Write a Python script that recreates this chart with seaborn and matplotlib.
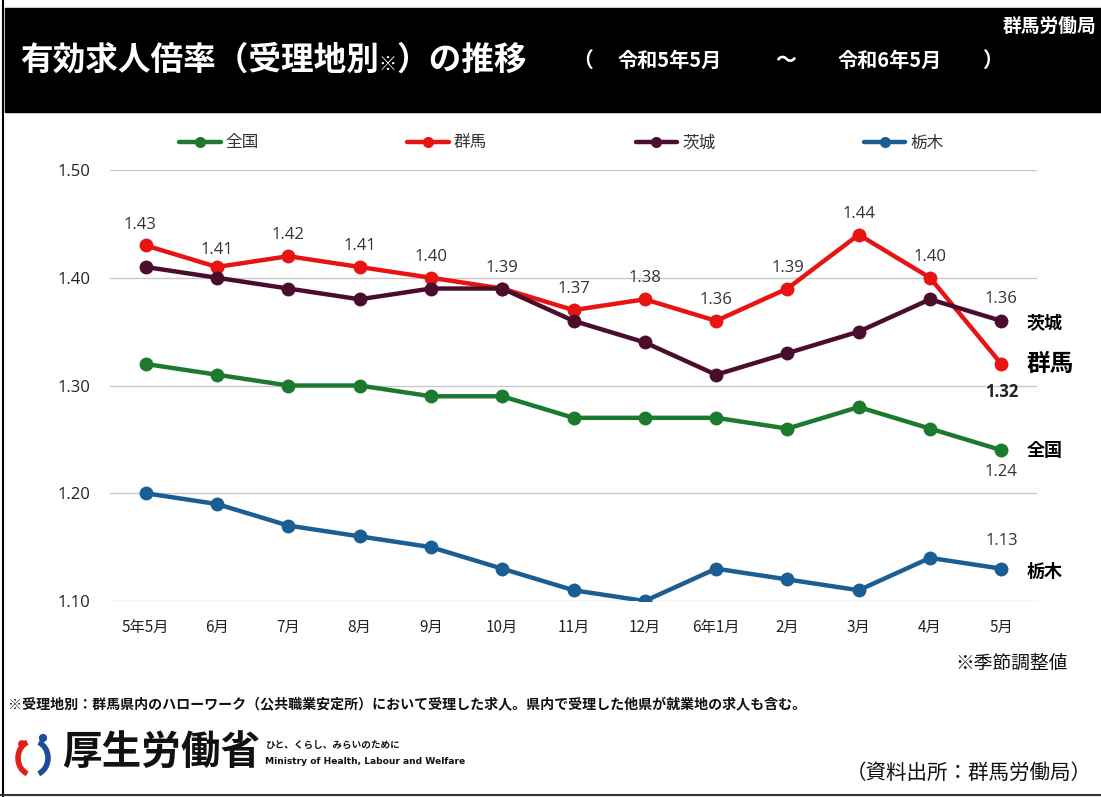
import numpy as np
import pandas as pd
import matplotlib
matplotlib.use("Agg")
import matplotlib.pyplot as plt
from matplotlib.lines import Line2D
from matplotlib.patches import Rectangle, Arc, Circle
import seaborn as sns

# ── data ─────────────────────────────────────────
MONTHS = ["5年5月", "6月", "7月", "8月", "9月", "10月", "11月", "12月",
          "6年1月", "2月", "3月", "4月", "5月"]
ZENKOKU = [1.32, 1.31, 1.30, 1.30, 1.29, 1.29, 1.27, 1.27, 1.27, 1.26, 1.28, 1.26, 1.24]
GUNMA = [1.43, 1.41, 1.42, 1.41, 1.40, 1.39, 1.37, 1.38, 1.36, 1.39, 1.44, 1.40, 1.32]
IBARAKI = [1.41, 1.40, 1.39, 1.38, 1.39, 1.39, 1.36, 1.34, 1.31, 1.33, 1.35, 1.38, 1.36]
TOCHIGI = [1.20, 1.19, 1.17, 1.16, 1.15, 1.13, 1.11, 1.10, 1.13, 1.12, 1.11, 1.14, 1.13]
Y_TICKS = [1.10, 1.20, 1.30, 1.40, 1.50]

REGIONS = ["全国", "群馬", "茨城", "栃木"]
PALETTE = {
    "全国": "#1c7a2e",
    "群馬": "#e81414",
    "茨城": "#4b0d2c",
    "栃木": "#1a5e93",
}

series = {"全国": ZENKOKU, "群馬": GUNMA, "茨城": IBARAKI, "栃木": TOCHIGI}
rows = []
for reg in REGIONS:
    for i, v in enumerate(series[reg]):
        rows.append({"pos": i, "month": MONTHS[i], "region": reg, "value": v})
df = pd.DataFrame(rows)

# ── figure ─────────────────────────────────────────
sns.set_style("white")
plt.rcParams["font.family"] = ["Noto Sans CJK JP", "DejaVu Sans"]

W, H = 1101, 797
fig = plt.figure(figsize=(W / 100, H / 100), dpi=100)


def fx(px):
    return px / W


def fy(py):
    return 1 - py / H


# header band
fig.patches.append(Rectangle((fx(5), fy(112)), fx(1101 - 5), (112 - 8) / H,
                             transform=fig.transFigure, color="black", zorder=0))
# frame lines
fig.add_artist(Line2D([fx(3), fx(3)], [0, 1], color="black", lw=1.5))
fig.add_artist(Line2D([0, 1], [fy(795), fy(795)], color="#333333", lw=1.5))

# title pieces, laid out left to right
renderer = fig.canvas.get_renderer()


def put(x_px, text, size, weight="bold", y_px=60):
    t = fig.text(fx(x_px), fy(y_px), text, color="white", fontsize=size,
                 fontweight=weight, va="center", ha="left")
    bb = t.get_window_extent(renderer=renderer)
    return bb.x1


x_end = put(20, "有効求人倍率（受理地別", 23.5)
x_end = put(x_end, "※", 13, y_px=64)
put(x_end, "）の推移", 23.5)
put(572, "（", 15)
put(618, "令和5年5月", 14.5)
put(775, "～", 15)
put(838, "令和6年5月", 14.5)
put(982, "）", 15)
fig.text(fx(1096), fy(26), "群馬労働局", color="white", fontsize=13.5,
         fontweight="bold", ha="right", va="center")

# ── chart ─────────────────────────────────────────
ax = fig.add_axes([fx(110), fy(601), fx(1037 - 110), (601 - 170) / H])
sns.lineplot(data=df, x="pos", y="value", hue="region", hue_order=REGIONS,
             palette=PALETTE, marker="o", markersize=10, markeredgewidth=0,
             linewidth=3.2, legend=False, ax=ax, zorder=3)

ax.set_xlim(-0.5, len(MONTHS) - 0.5)
ax.set_ylim(1.10, 1.50)
ax.set_yticks(Y_TICKS)
ax.set_yticklabels([f"{v:.2f}" for v in Y_TICKS], fontsize=12, color="#222222",
                   family=["Open Sans", "DejaVu Sans"])
ax.set_xticks(range(len(MONTHS)))
ax.set_xticklabels(MONTHS, fontsize=11, color="#222222")
ax.tick_params(length=0, pad=14, axis="y")
ax.tick_params(length=0, pad=13, axis="x")
ax.set_xlabel("")
ax.set_ylabel("")
ax.grid(axis="y", color="#c9c9c9", lw=1)
ax.grid(axis="x", visible=False)
for s in ax.spines.values():
    s.set_visible(False)

NUM_FONT = ["Open Sans", "DejaVu Sans"]

# value labels for 群馬
for i, v in enumerate(GUNMA[:-1]):
    dy = 12 if i == 1 else 15
    ax.annotate(f"{v:.2f}", (i, v), xytext=(-4 if i == 0 else 0, dy),
                textcoords="offset points", ha="center", va="center",
                fontsize=12, color="#333333", family=NUM_FONT)
last = len(MONTHS) - 1
ax.annotate(f"{GUNMA[-1]:.2f}", (last, GUNMA[-1]), xytext=(0, -20),
            textcoords="offset points", ha="center", va="center", fontsize=12,
            fontweight="bold", color="#222222", family=NUM_FONT)
ax.annotate(f"{IBARAKI[-1]:.2f}", (last, IBARAKI[-1]), xytext=(0, 16),
            textcoords="offset points", ha="center", va="center", fontsize=12,
            color="#333333", family=NUM_FONT)
ax.annotate(f"{ZENKOKU[-1]:.2f}", (last, ZENKOKU[-1]), xytext=(0, -16),
            textcoords="offset points", ha="center", va="center", fontsize=12,
            color="#333333", family=NUM_FONT)
ax.annotate(f"{TOCHIGI[-1]:.2f}", (last, TOCHIGI[-1]), xytext=(0, 20),
            textcoords="offset points", ha="center", va="center", fontsize=12,
            color="#333333", family=NUM_FONT)

# end-of-line names
end_names = [("茨城", IBARAKI[-1], -1, 13), ("群馬", GUNMA[-1], 0, 17),
             ("全国", ZENKOKU[-1], 0, 13), ("栃木", TOCHIGI[-1], -2, 13)]
for name, v, dy, size in end_names:
    ax.annotate(name, (last, v), xytext=(18, dy), textcoords="offset points",
                ha="left", va="center", fontsize=size, fontweight="bold",
                color="black")

# legend
handles = [Line2D([], [], color=PALETTE[r], lw=3.2, marker="o", markersize=8,
                  markeredgewidth=0) for r in REGIONS]
fig.legend(handles, REGIONS, loc="center left", bbox_to_anchor=(fx(164), fy(143)),
           ncol=4, frameon=False, fontsize=12, handlelength=2.5,
           handletextpad=0.3, columnspacing=8.9, labelcolor="#333333")

# ── footnotes ─────────────────────────────────────────
fig.text(fx(1068), fy(663), "※季節調整値", fontsize=13.5, ha="right",
         va="center", color="#111111")
fig.text(fx(8), fy(705),
         "※受理地別：群馬県内のハローワーク（公共職業安定所）において受理した求人。県内で受理した他県が就業地の求人も含む。",
         fontsize=10.1, fontweight="bold", ha="left", va="center", color="#111111")
fig.text(fx(1092), fy(773), "（資料出所：群馬労働局）", fontsize=14.8, ha="right",
         va="center", color="#111111")

# ministry logo
fig.text(fx(62), fy(752), "厚生労働省", fontsize=28.5, fontweight="bold",
         ha="left", va="center", color="#111111")
fig.text(fx(265), fy(745), "ひと、くらし、みらいのために", fontsize=6.9,
         fontweight="bold", ha="left", va="center", color="#111111")
fig.text(fx(265), fy(761), "Ministry of Health, Labour and Welfare", fontsize=6.6,
         fontweight="bold", ha="left", va="center", color="#111111",
         family=["Liberation Sans Narrow", "DejaVu Sans"])

logo = fig.add_axes([fx(12), fy(782), fx(46), 52 / H])
logo.set_xlim(0, 46)
logo.set_ylim(0, 52)
logo.set_aspect("equal")
logo.axis("off")
logo.add_patch(Arc((21, 24), 30, 34, theta1=110, theta2=250, color="#e0201b", lw=4))
logo.add_patch(Arc((21, 24), 30, 34, theta1=-70, theta2=70, color="#1f4c9a", lw=4))
logo.add_patch(Circle((10, 38), 3.2, color="#e0201b"))
logo.add_patch(Circle((31, 44), 3.4, color="#1f4c9a"))

fig.savefig("out.png", dpi=100)
